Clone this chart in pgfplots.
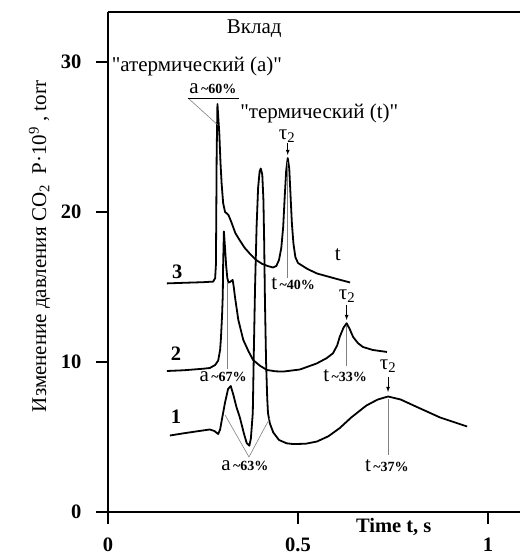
\documentclass[border=0pt]{standalone}
\usepackage{fontspec}
\setmainfont{Liberation Serif}
\usepackage{pgfplots}
\pgfplotsset{compat=1.18}
\newcommand{\bigt}{\fontsize{21}{23}\selectfont}
\newcommand{\smt}{\fontsize{14}{16}\selectfont\bfseries}
\newcommand{\pct}[2]{{\bigt #1} {\smt\textasciitilde#2\%}}
\newcommand{\q}{\textquotedbl}
\begin{document}
\begin{tikzpicture}
\begin{axis}[
  scale only axis, width=412pt, height=500pt,
  xmin=0, xmax=1.0842, ymin=0, ymax=33.333,
  axis x line*=bottom, axis y line*=left,
  axis line style={-, line width=1.5pt},
  clip=false,
  xtick={0,0.5,1}, xticklabels={0,0.5,1},
  ytick={0,10,20,30}, yticklabels={0,10,20,30},
  tick align=outside, major tick length=12pt,
  tick style={line width=1.6pt, black},
  ticklabel style={font=\fontsize{20.5}{22}\selectfont\bfseries},
  yticklabel style={xshift=-11pt},
  xticklabel style={yshift=-10pt},
  every axis plot/.append style={black, line width=1.8pt, line join=round},
]
% top border
\draw[line width=1.5pt] (rel axis cs:0,1) -- (rel axis cs:1,1);
% curve 3
\addplot[no markers] coordinates {
(0.155,15.24) (0.2,15.28) (0.25,15.32) (0.277,15.36) (0.282,15.6) (0.284,16.5) (0.285,20) (0.286,24) (0.288,27.2)
(0.291,26.0) (0.293,25.2) (0.296,23.3) (0.299,21.9) (0.303,20.6) (0.308,20.0) (0.313,19.9) (0.317,19.8)
(0.325,19.3) (0.335,18.6) (0.347,18.1) (0.36,17.6) (0.374,17.2) (0.39,16.8) (0.405,16.55) (0.42,16.4) (0.434,16.3)
(0.443,16.4) (0.45,16.8) (0.456,17.6) (0.461,19.0) (0.465,21.0) (0.469,22.8) (0.473,23.6) (0.477,22.9) (0.48,21.3)
(0.484,19.2) (0.488,17.9) (0.493,17.0) (0.5,16.6) (0.525,16.2) (0.55,15.9) (0.6,15.55) (0.637,15.3)
};
% curve 2
\addplot[no markers] coordinates {
(0.155,9.4) (0.2,9.45) (0.25,9.55) (0.268,9.6) (0.282,9.8) (0.29,10.1) (0.295,10.8) (0.297,11.5) (0.300,13.0)
(0.302,14.4) (0.303,16.5) (0.305,18.7) (0.308,17.6) (0.311,16.4) (0.314,15.6) (0.317,15.3) (0.322,15.35)
(0.328,15.47) (0.331,15.0) (0.334,14.36) (0.343,12.8) (0.356,11.47) (0.37,10.7) (0.382,10.13) (0.4,9.75) (0.418,9.47)
(0.44,9.38) (0.461,9.36) (0.505,9.5) (0.549,9.9) (0.575,10.25) (0.592,10.58) (0.603,11.1) (0.61,11.69) (0.62,12.3) (0.628,12.58)
(0.636,12.2) (0.645,11.67) (0.658,11.25) (0.671,11.0) (0.697,10.8) (0.734,10.67)
};
% curve 1
\addplot[no markers] coordinates {
(0.163,5.1) (0.2,5.25) (0.24,5.4) (0.268,5.5) (0.28,5.4) (0.29,5.2) (0.295,5.5) (0.3,6.2) (0.308,7.3) (0.316,8.2) (0.323,8.4)
(0.33,7.8) (0.338,7.0) (0.347,6.3) (0.358,5.2) (0.365,4.6) (0.372,4.42) (0.376,4.9) (0.381,6.6) (0.384,11) (0.387,15)
(0.391,19) (0.395,21.6) (0.399,22.7) (0.402,22.9) (0.406,22.5) (0.409,20.8) (0.411,18) (0.413,14.1) (0.416,10)
(0.419,7.6) (0.421,6.6) (0.426,5.9) (0.435,5.3) (0.45,4.8) (0.47,4.58) (0.487,4.53) (0.52,4.55) (0.55,4.7) (0.58,5.05)
(0.61,5.6) (0.64,6.3) (0.68,7.1) (0.71,7.5) (0.737,7.7) (0.77,7.5) (0.813,7.0) (0.874,6.3) (0.945,5.7)
};
% gray guide lines
\draw[gray, line width=0.6pt] (axis cs:0.2105,27.6) -- (axis cs:0.289,25.8);
\draw[black, line width=0.6pt] (axis cs:0.2105,27.6) -- (axis cs:0.345,27.6);
\draw[gray, line width=0.6pt] (axis cs:0.473,23.3) -- (axis cs:0.473,15.6);
\draw[gray, line width=0.6pt] (axis cs:0.313,15.3) -- (axis cs:0.313,9.5);
\draw[gray, line width=0.6pt] (axis cs:0.628,12.4) -- (axis cs:0.628,9.7);
\draw[gray, line width=0.6pt] (axis cs:0.737,7.5) -- (axis cs:0.737,3.8);
\draw[gray, line width=0.6pt] (axis cs:0.308,6.47) -- (axis cs:0.371,3.67) -- (axis cs:0.426,6.27);
% arrows
\draw[-latex, line width=0.8pt] (axis cs:0.473,24.6) -- (axis cs:0.473,23.8);
\draw[-latex, line width=0.8pt] (axis cs:0.628,13.8) -- (axis cs:0.628,12.8);
\draw[-latex, line width=0.8pt] (axis cs:0.737,9.0) -- (axis cs:0.737,8.0);
% texts
\begin{scope}[every node/.style={inner sep=0pt}]
\node at (axis cs:0.385,32.2) {\bigt Вклад};
\node at (axis cs:0.234,29.73) {\bigt \q атермический (а)\q};
\node at (axis cs:0.276,28.25) {\pct{а}{60}};
\node at (axis cs:0.556,26.55) {\bigt \q термический (t)\q};
\node at (axis cs:0.471,25.05) {\bigt τ\textsubscript{2}};
\node at (axis cs:0.605,17.13) {\bigt t};
\node at (axis cs:0.487,15.2) {\pct{t}{40}};
\node at (axis cs:0.303,9.0) {\pct{а}{67}};
\node at (axis cs:0.629,14.4) {\bigt τ\textsubscript{2}};
\node at (axis cs:0.624,9.1) {\pct{t}{33}};
\node at (axis cs:0.737,9.7) {\bigt τ\textsubscript{2}};
\node at (axis cs:0.734,3.1) {\pct{t}{37}};
\node at (axis cs:0.36,3.1) {\pct{а}{63}};
\node at (axis cs:0.182,16.0) {\fontsize{20.5}{22}\selectfont\bfseries 3};
\node at (axis cs:0.179,10.53) {\fontsize{20.5}{22}\selectfont\bfseries 2};
\node at (axis cs:0.179,6.33) {\fontsize{20.5}{22}\selectfont\bfseries 1};
\node at (axis cs:0.752,-1.0) {\fontsize{20.5}{22}\selectfont\bfseries Time t, s};
\node[rotate=90] at (axis cs:-0.18,17.7) {\fontsize{21}{23}\selectfont Изменение давления CO\textsubscript{2}\ \ P·10\textsuperscript{9} , torr};
\end{scope}
\coordinate (SW) at (rel axis cs:0,0);
\end{axis}
\pgfresetboundingbox
\path (SW) ++(-108pt,-43pt) rectangle ++(520pt,555pt);
\end{tikzpicture}
\end{document}
